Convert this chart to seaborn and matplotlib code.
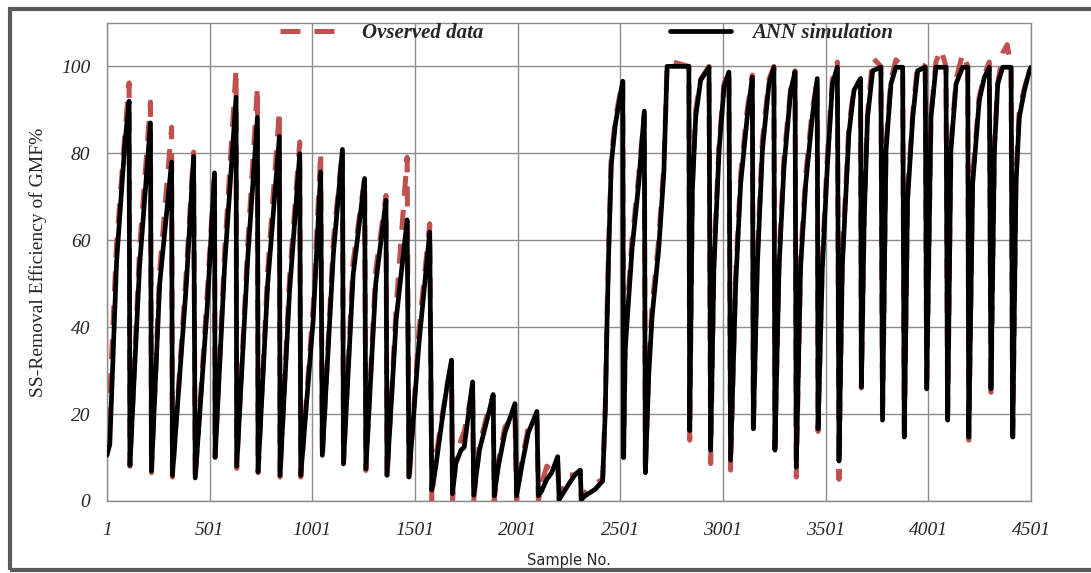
import numpy as np
import pandas as pd
import matplotlib
matplotlib.use("Agg")
import matplotlib.pyplot as plt
import seaborn as sns
from matplotlib.patches import Rectangle

# Sample numbers of the curve vertices
sample_no = [
    1, 15, 48, 88, 109, 113, 160, 213, 218, 258, 316, 320, 388, 423, 431, 490, 525,
    528, 574, 630, 633, 687, 734, 737, 784, 841, 844, 890, 940, 945, 1006, 1042,
    1050, 1104, 1148, 1153, 1200, 1256, 1262, 1310, 1360, 1365, 1410, 1463, 1472,
    1520, 1573, 1583,
    1602, 1635, 1659, 1679, 1684, 1700, 1725, 1741, 1782, 1787, 1815, 1864, 1882,
    1887, 1907, 1939, 1988, 1996, 2021, 2053, 2095, 2102, 2118, 2143, 2167, 2196,
    2203, 2224, 2249, 2281, 2306, 2311, 2330, 2379, 2415, 2428, 2436, 2444, 2457,
    2477, 2513,
    2517, 2525, 2558, 2591, 2618, 2623, 2640, 2656, 2688, 2713, 2729, 2760, 2835,
    2839, 2852, 2868, 2892, 2933, 2941, 2957, 2982, 3006, 3030, 3038, 3063, 3087,
    3119, 3144, 3149, 3168, 3193, 3225, 3249, 3254, 3274, 3298, 3331, 3352, 3358,
    3379, 3404, 3436, 3460, 3464, 3485, 3509, 3534, 3558, 3566, 3582, 3614, 3639,
    3671, 3675, 3689, 3705, 3730, 3770, 3778, 3795, 3819, 3843, 3876, 3884, 3900,
    3925, 3949, 3986, 3993, 4014, 4038, 4062, 4087, 4095, 4111, 4136, 4168, 4193,
    4198, 4217, 4249, 4274, 4298, 4306, 4323, 4339, 4363, 4385, 4404, 4412, 4428,
    4444, 4469, 4493, 4501,
]

# ANN simulation (%)
ann_sim = [
    10.5, 13, 55, 82, 92, 8.2, 54, 87, 6.9, 50, 78, 5.9, 50, 79.3, 5.3, 45, 75.5,
    10.1, 54, 92.9, 8.0, 56, 88.3, 6.7, 50, 83.9, 5.9, 48, 79.9, 5.9, 42, 75.7,
    10.5, 57, 80.9, 8.6, 52, 74.2, 7.4, 50, 69.2, 5.9, 42, 64.7, 5.5,
    36, 61.9, 2.5,
    7.8, 19.3, 27, 32.4, 1.7, 8.6, 11.7, 12.4, 27.4, 1.3, 11.7, 20.9, 24.5,
    1.2, 8, 15.7, 22.4, 1.2, 8, 15.7, 20.6, 1.2, 2.3, 5, 6.5, 10.2,
    0.4, 1.9, 3.8, 6.1, 7.1, 0.4, 1.2, 2.7, 4.6, 21, 40, 56.4, 77.5,
    86.7, 96.6,
    10, 34.9, 57.9, 73.2, 89.7, 6.5, 29.5, 42.6, 57.9, 75.5, 100, 100, 100,
    16.2, 71.5, 88.3, 96.8, 99.8, 11.7, 53.8, 80.7, 95.2, 98.7, 9.4, 50, 73,
    88.3, 97.5, 16.6, 53.8, 80.7, 96, 99.8, 11.7, 53.8, 76.8, 94.5, 98.7, 7.8,
    53.8, 73, 88.3, 97.2, 16.6, 53.8, 76.8, 96, 99.8, 9.2, 53.8, 84.5, 94.5,
    97.2, 26.2, 65.3, 88.3, 99, 99.8, 18.6, 80.7, 96, 99.8, 99.8, 14.7, 69.2,
    88.3, 99, 99.8, 25.8, 88.3, 99.8, 99.8, 99.8, 18.6, 80.7, 96, 99.8, 99.8,
    14.7, 73, 92.2, 97.5, 99.8, 25.8, 80.7, 96, 99.8, 99.8, 99.8, 14.7, 73,
    88.3, 94.5, 99, 99.8,
]

# Observed data (%)
obs_data = [
    17, 24, 59, 84, 96.2, 8, 58, 91.8, 6.5, 53, 86, 5.5, 53, 80.3, 5, 48, 76,
    10, 57, 99.5, 7.5, 59, 95.4, 6.5, 53, 89.9, 5.5, 51, 82.6, 5.5, 45, 80.3,
    10, 60, 80.9, 8.5, 55, 74.2, 7, 53, 70.3, 5.1, 45, 79.1, 4.0,
    39, 63.8, 0,
    10, 20, 27, 30, 0, 10, 14, 16, 26, 0, 13, 22, 24,
    0, 9, 17, 20, 0, 9, 17, 19, 0, 4, 8, 7, 9,
    0, 4, 6, 6, 7, 0, 2, 4, 5, 22, 42, 58, 79,
    88, 97,
    10, 37, 60, 75, 89, 6.5, 32, 45, 60, 77, 100.5, 101, 100,
    14, 73, 90, 97, 100, 8.6, 56, 82, 96, 99, 7.1, 52, 75,
    90, 98, 16, 56, 83, 97, 100, 11, 56, 79, 95, 99, 5.5,
    56, 75, 90, 97, 16, 56, 79, 97, 101, 5, 56, 86, 95,
    97, 26, 67, 89, 102, 100, 18, 82, 97, 101.5, 100, 14, 71,
    89, 100.8, 100, 25, 89, 101, 104, 100, 18, 82, 97, 103, 100,
    14, 75, 93, 98, 101, 25, 82, 96, 103, 105, 100, 14, 75,
    90, 95, 99, 100,
]

df = pd.DataFrame({"sample": sample_no, "ann": ann_sim, "obs": obs_data})

sns.set_theme(style="white")
plt.rcParams["font.family"] = ["Liberation Serif", "DejaVu Serif"]

fig = plt.figure(figsize=(10.91, 5.73), dpi=100)
ax = fig.add_axes([0.098, 0.1257, 0.847, 0.8343])

red = "#C0504D"
sns.lineplot(data=df, x="sample", y="obs", ax=ax, color=red, lw=3.6,
             linestyle=(0, (4, 2.8)), sort=False, estimator=None,
             label="Ovserved data", zorder=2)
sns.lineplot(data=df, x="sample", y="ann", ax=ax, color="black", lw=3.4,
             sort=False, estimator=None, label="ANN simulation", zorder=3)

ax.set_xlim(1, 4501)
ax.set_ylim(0, 110)
ax.set_xticks(np.arange(1, 4502, 500))
ax.set_yticks(np.arange(0, 101, 20))
ax.grid(True, color="#8c8c8c", lw=1.0)
ax.set_axisbelow(True)
for s in ax.spines.values():
    s.set_color("#8c8c8c")
    s.set_linewidth(1.0)
ax.tick_params(axis="both", length=0, labelsize=14, pad=12)
ax.tick_params(axis="x", pad=15)
for t in ax.get_xticklabels() + ax.get_yticklabels():
    t.set_fontstyle("italic")

ax.set_ylabel("SS-Removal Efficiency of GMF%", fontsize=14, labelpad=10)
ax.set_xlabel("Sample No.", fontsize=10.5, family=["DejaVu Sans"], labelpad=10)

leg = ax.legend(loc="center", bbox_to_anchor=(0.519, 0.979), ncol=2,
                frameon=False, handlelength=2.9, handletextpad=1.0,
                columnspacing=9, borderpad=0,
                prop={"size": 15, "style": "italic", "weight": "bold"})

# outer frame of the figure (runs off the right edge)
fig.patches.append(Rectangle((10 / 1091, 3 / 573), 1.05, 561 / 573,
                             transform=fig.transFigure, fill=False,
                             edgecolor="#5a5a5a", lw=3))

fig.savefig("out.png", dpi=100)
